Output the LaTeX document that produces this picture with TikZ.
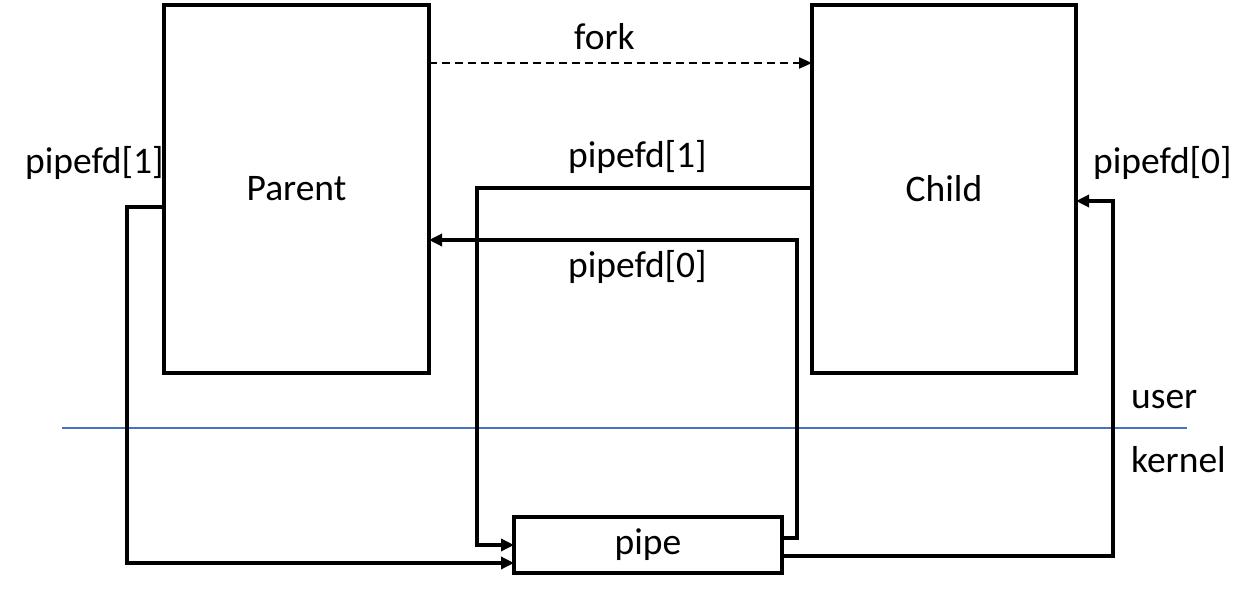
\documentclass[tikz,border=0pt]{standalone}
\usepackage{fontspec}
\setmainfont{Carlito}
\usetikzlibrary{arrows.meta}
\definecolor{sepblue}{RGB}{68,114,196}
\begin{document}
\begin{tikzpicture}[x=1pt,y=-1pt,
  box/.style={draw=black,line width=3.8pt,fill=white,outer sep=0pt,inner sep=0pt},
  conn/.style={draw=black,line width=3.6pt,-{Triangle[length=13pt,width=12pt]}},
  forkarrow/.style={draw=black,line width=2pt,dash pattern=on 8pt off 5pt,-{Triangle[length=13pt,width=11pt]}},
  lbl/.style={font=\fontsize{37.5}{42}\selectfont,inner sep=0pt,anchor=west}]
\useasboundingbox (0,0) rectangle (1256,591);
\draw[sepblue,line width=1.6pt] (62,428) -- (1187,428);
\node[box,minimum width=265pt,minimum height=368pt] (parent) at (296.5,189) {};
\node[box,minimum width=264pt,minimum height=368pt] (child) at (944,189) {};
\node[box,minimum width=268pt,minimum height=56pt] (pipe) at (648,545) {};
\node[lbl,anchor=center] (ptxt) at (parent.center) {Parent};
\node[lbl,anchor=center] (ctxt) at (child.center) {Child};
\node[lbl,anchor=center] (pipetxt) at (pipe.center) {pipe};
\node[lbl] (forktxt) at (574,37) {fork};
\node[lbl] (l1) at (568,157) {pipefd[1]};
\node[lbl] (l0) at (568,267) {pipefd[0]};
\node[lbl] (lleft) at (25,163) {pipefd[1]};
\node[lbl] (lright) at (1093,163) {pipefd[0]};
\node[lbl] (user) at (1131,400) {user};
\node[lbl] (kernel) at (1131,460) {kernel};
\draw[forkarrow] (parent.east |- 0,63) -- (child.west |- 0,63);
\draw[conn] (child.west |- 0,188) -| (477,545) -- (pipe.west |- 0,545);
\draw[conn] (pipe.east |- 0,538) -| (797,240) -- (parent.east |- 0,240);
\draw[conn] (parent.west |- 0,207) -| (127,563) -- (pipe.west |- 0,563);
\draw[conn] (pipe.east |- 0,556) -| (1113,201) -- (child.east |- 0,201);
\end{tikzpicture}
\end{document}
